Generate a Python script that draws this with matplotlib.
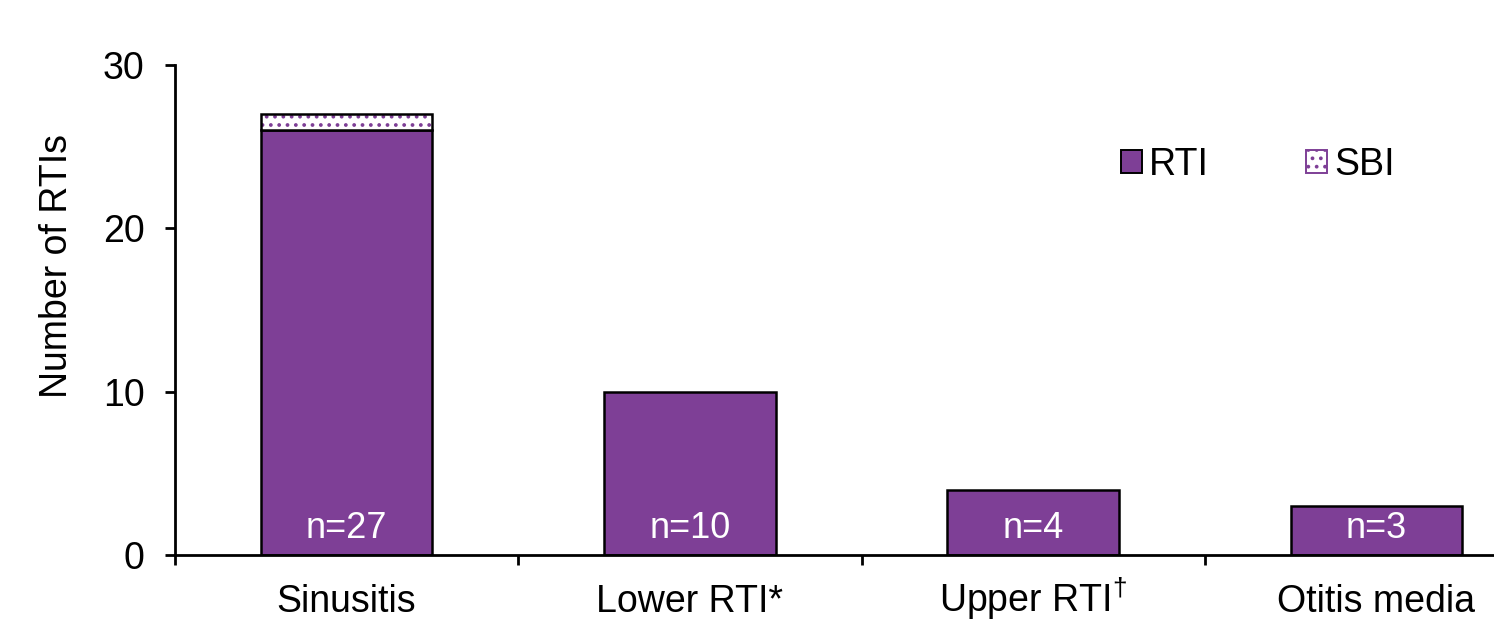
import matplotlib
matplotlib.use("Agg")
from matplotlib import pyplot as plt
from matplotlib.patches import Patch
import numpy as np

categories = ['Sinusitis', 'Lower RTI*', 'Upper RTI$^{†}$', 'Otitis media']
rti = [26, 10, 4, 3]
sbi = [1, 0, 0, 0]
n_labels = ['n=27', 'n=10', 'n=4', 'n=3']

plt.rcParams['font.family'] = ['Liberation Sans', 'DejaVu Sans']
plt.rcParams['mathtext.fontset'] = 'custom'
plt.rcParams['mathtext.rm'] = 'Liberation Sans'
plt.rcParams['mathtext.default'] = 'regular'
plt.rcParams['hatch.linewidth'] = 1.5

purple = '#7E3F96'
W, H = 1494, 623
fig = plt.figure(figsize=(W / 100, H / 100), dpi=100)
# axes runs off the right edge like the original
ax = fig.add_axes([175 / W, (H - 555) / H, 1373 / W, 490 / H])

x = np.arange(len(categories))
ax.bar(x, rti, width=0.5, color=purple, edgecolor='black', linewidth=1.8, zorder=2)
# SBI: white with purple dots, black outline
ax.bar(x, sbi, width=0.5, bottom=rti, color='white', edgecolor=purple, hatch='..',
       linewidth=0, zorder=2)
for xi, s, r in zip(x, sbi, rti):
    if s > 0:
        ax.bar(xi, s, width=0.5, bottom=r, fill=False, edgecolor='black', linewidth=1.8, zorder=3)

for xi, lab in zip(x, n_labels):
    ax.text(xi, 1.6, lab, color='white', ha='center', va='center', fontsize=26, zorder=4)

ax.set_xlim(-0.5, 3.5)
ax.set_ylim(0, 30)
ax.set_yticks([0, 10, 20, 30])
ax.tick_params(axis='y', labelsize=27, length=7, width=2, pad=15)
ax.set_xticks(np.arange(-0.5, 4, 1))
ax.set_xticklabels([])
ax.set_xticks(x, minor=True)
ax.set_xticklabels(categories, minor=True, va='baseline')
ax.tick_params(axis='x', which='major', length=7, width=2)
ax.tick_params(axis='x', which='minor', length=0, labelsize=27, pad=41)

for sp in ['top', 'right']:
    ax.spines[sp].set_visible(False)
for sp in ['left', 'bottom']:
    ax.spines[sp].set_linewidth(2)

ax.set_ylabel('Number of RTIs', fontsize=27)
ax.yaxis.set_label_coords(-0.073, 0.59)

handles = [Patch(facecolor=purple, edgecolor='black', linewidth=1.4),
           Patch(facecolor='white', edgecolor=purple, hatch='..', linewidth=1.4)]
leg = fig.legend(handles, ['RTI', 'SBI'], loc='center', bbox_to_anchor=(1258 / W, 1 - 165 / H),
                 ncol=2, frameon=False, fontsize=27, handlelength=0.55, handleheight=0.55,
                 handletextpad=0.2, columnspacing=2.6)

fig.savefig('out.png', dpi=100)
